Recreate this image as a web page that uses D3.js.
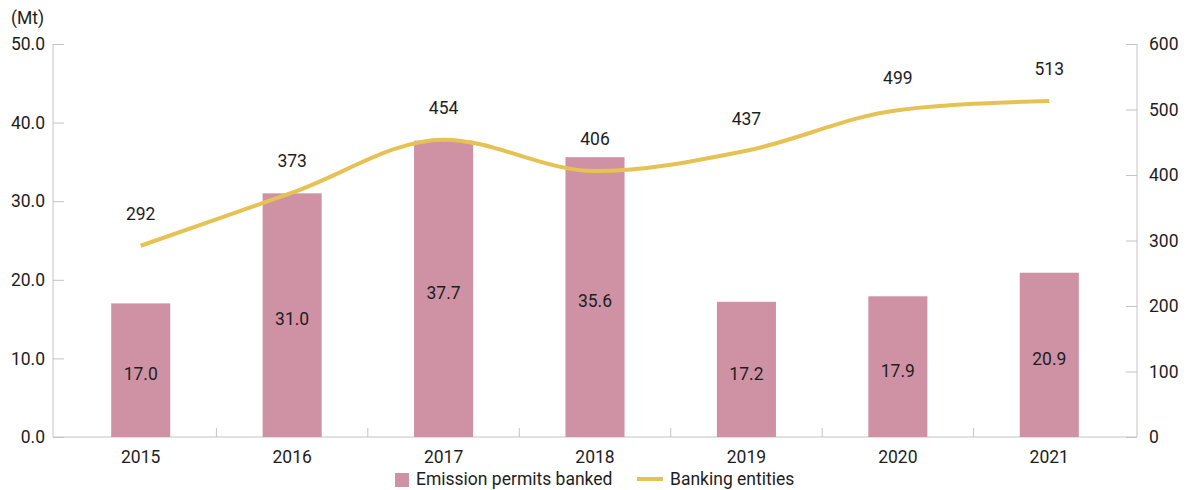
<!DOCTYPE html>
<html>
<head>
<meta charset="utf-8">
<script src="https://cdn.jsdelivr.net/npm/d3@7"></script>
<style>
  html, body { margin: 0; padding: 0; background: #fff; }
  svg text { font-family: Roboto, "Liberation Sans", sans-serif; fill: #1e1e1e; font-size: 17.5px; }
</style>
</head>
<body>
<svg id="chart" width="1188" height="490"></svg>
<script>
// Banked emission permits (Mt) and number of banking entities per year
const years = ["2015", "2016", "2017", "2018", "2019", "2020", "2021"];
const permitsBanked = [17.0, 31.0, 37.7, 35.6, 17.2, 17.9, 20.9];
const bankingEntities = [292, 373, 454, 406, 437, 499, 513];
const leftTicks = [0, 10, 20, 30, 40, 50];
const rightTicks = [0, 100, 200, 300, 400, 500, 600];

const barColor = "#cf92a5";
const lineColor = "#e6c254";
const axisColor = "#c4c4c4";

const svg = d3.select("#chart");
const axisLeftX = 53, axisRightX = 1137, plotTop = 44, plotBottom = 437;

const x = d3.scaleBand().domain(years).range([65, 1125]).paddingInner(0.61).paddingOuter(0.305);
const yL = d3.scaleLinear().domain([0, 50]).range([plotBottom, plotTop]);
const yR = d3.scaleLinear().domain([0, 600]).range([plotBottom, plotTop]);

// Axes
const leftAxis = svg.append("g").attr("transform", `translate(${axisLeftX},0)`)
  .call(d3.axisRight(yL).tickValues(leftTicks).tickSize(11).tickFormat(""));
leftAxis.selectAll("line, path").attr("stroke", axisColor);
leftAxis.select(".domain").attr("d", `M0,${plotTop}V${plotBottom}`);
svg.append("g").selectAll("text").data(leftTicks).join("text")
  .attr("x", 45).attr("y", d => yL(d)).attr("dy", "0.35em")
  .attr("text-anchor", "end")
  .text(d => d3.format(".1f")(d));

const rightAxis = svg.append("g").attr("transform", `translate(${axisRightX},0)`)
  .call(d3.axisLeft(yR).tickValues(rightTicks).tickSize(11).tickFormat(""));
rightAxis.selectAll("line, path").attr("stroke", axisColor);
rightAxis.select(".domain").attr("d", `M0,${plotTop}V${plotBottom}`);
svg.append("g").selectAll("text").data(rightTicks).join("text")
  .attr("x", 1149).attr("y", d => yR(d)).attr("dy", "0.35em")
  .attr("text-anchor", "start")
  .text(d => d);

svg.append("line").attr("x1", axisLeftX).attr("x2", axisRightX)
  .attr("y1", plotBottom).attr("y2", plotBottom).attr("stroke", axisColor);

// separators between categories
const step = x.step();
svg.append("g").selectAll("line").data(years.slice(1)).join("line")
  .attr("x1", d => x(d) + x.bandwidth() / 2 - step / 2)
  .attr("x2", d => x(d) + x.bandwidth() / 2 - step / 2)
  .attr("y1", plotBottom).attr("y2", plotBottom - 9).attr("stroke", axisColor);

svg.append("g").selectAll("text").data(years).join("text")
  .attr("x", d => x(d) + x.bandwidth() / 2).attr("y", 463)
  .attr("text-anchor", "middle").text(d => d);

svg.append("text").attr("x", 11).attr("y", 24).text("(Mt)");

// Bars
svg.append("g").selectAll("rect").data(permitsBanked).join("rect")
  .attr("x", (d, i) => x(years[i])).attr("width", x.bandwidth())
  .attr("y", d => yL(d)).attr("height", d => plotBottom - yL(d))
  .attr("fill", barColor);

svg.append("g").selectAll("text").data(permitsBanked).join("text")
  .attr("x", (d, i) => x(years[i]) + x.bandwidth() / 2)
  .attr("y", d => (yL(d) + plotBottom) / 2 + 4)
  .attr("dy", "0.35em").attr("text-anchor", "middle")
  .text(d => d3.format(".1f")(d));

// Line
const line = d3.line()
  .x((d, i) => x(years[i]) + x.bandwidth() / 2)
  .y(d => yR(d))
  .curve(d3.curveMonotoneX);
svg.append("path").datum(bankingEntities).attr("d", line)
  .attr("fill", "none").attr("stroke", lineColor).attr("stroke-width", 4);

svg.append("g").selectAll("text").data(bankingEntities).join("text")
  .attr("x", (d, i) => x(years[i]) + x.bandwidth() / 2)
  .attr("y", d => yR(d) - 32)
  .attr("dy", "0.35em").attr("text-anchor", "middle")
  .text(d => d);

// Legend
const lg = svg.append("g");
lg.append("rect").attr("x", 395).attr("y", 473).attr("width", 14).attr("height", 14).attr("fill", barColor);
lg.append("text").attr("x", 416).attr("y", 485).text("Emission permits banked");
lg.append("line").attr("x1", 637).attr("x2", 663).attr("y1", 479).attr("y2", 479)
  .attr("stroke", lineColor).attr("stroke-width", 4);
lg.append("text").attr("x", 670).attr("y", 485).text("Banking entities");
</script>
</body>
</html>
